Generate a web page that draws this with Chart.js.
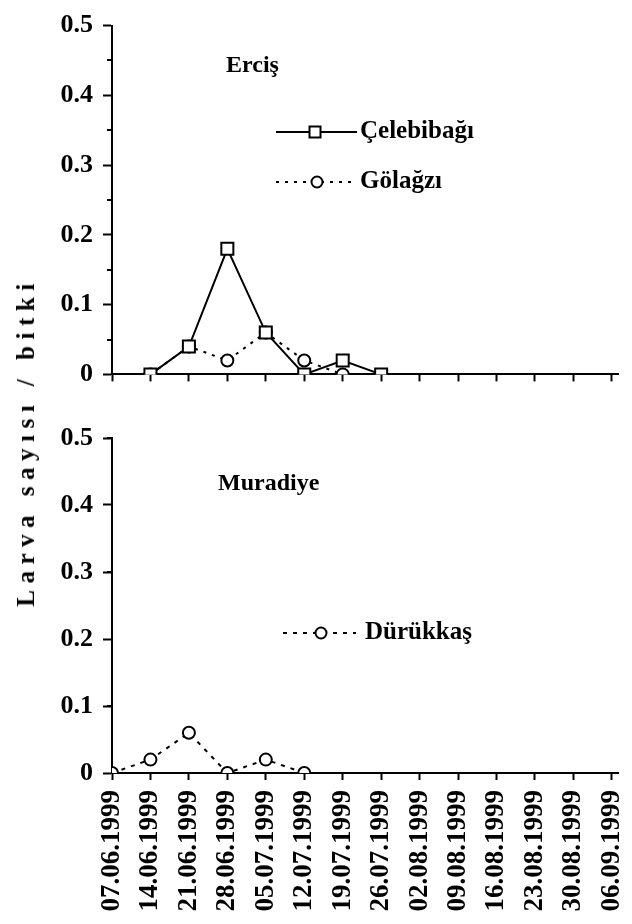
<!DOCTYPE html>
<html>
<head>
<meta charset="utf-8">
<script src="https://cdn.jsdelivr.net/npm/chart.js"></script>
<style>
    html, body { margin: 0; padding: 0; background: #fff; }
    #wrap { position: relative; width: 632px; height: 924px; overflow: hidden; }
    canvas { position: absolute; left: 0; }
    #c-top { top: 0; }
    #c-bottom { top: 400px; }
    #y-title {
        position: absolute; left: 26px; top: 442px;
        transform: translate(-50%, -50%) rotate(-90deg);
        white-space: nowrap;
        font: bold 25px 'Liberation Serif', 'Times New Roman', serif;
        letter-spacing: 6.5px;
        color: #000;
    }
</style>
</head>
<body>
<div id="wrap">
    <canvas id="c-top" width="632" height="400"></canvas>
    <canvas id="c-bottom" width="632" height="524"></canvas>
    <div id="y-title">Larva sayısı / bitki</div>
</div>
<script>
// Tarihler (kategori ekseni)
const dates = ['07.06.1999', '14.06.1999', '21.06.1999', '28.06.1999', '05.07.1999', '12.07.1999', '19.07.1999',
    '26.07.1999', '02.08.1999', '09.08.1999', '16.08.1999', '23.08.1999', '30.08.1999', '06.09.1999'];

// Erciş
const celebibagi = [null, 0, 0.04, 0.18, 0.06, 0, 0.02, 0, null, null, null, null, null, null];
const golagzi = [null, 0, 0.04, 0.02, 0.06, 0.02, 0, null, null, null, null, null, null, null];

// Muradiye
const durukkas = [0, 0.02, 0.06, 0, 0.02, 0, null, null, null, null, null, null, null, null];

const yMin = 0;
const yMax = 0.5;
const yStep = 0.05; // ara çentikler, etiket her 0.1'de

const FONT = "'Liberation Serif', 'Times New Roman', serif";
Chart.defaults.font.family = FONT;
Chart.defaults.font.weight = 'bold';
Chart.defaults.color = '#000';

function toPoints(values) {
    return values.map((v, i) => ({ x: i, y: v }));
}

// Metinler ve gösterge (grafik alanı içinde)
const notesPlugin = {
    id: 'notes',
    afterDraw(chart, args, opts) {
        const ctx = chart.ctx;
        ctx.save();
        ctx.fillStyle = '#000';
        ctx.textBaseline = 'middle';
        (opts.texts || []).forEach(t => {
            ctx.font = `bold ${t.size}px ${FONT}`;
            ctx.fillText(t.text, t.x, t.y);
        });
        (opts.legend || []).forEach(l => {
            ctx.strokeStyle = '#000';
            ctx.lineWidth = 2;
            ctx.setLineDash(l.dash || []);
            ctx.beginPath();
            ctx.moveTo(l.x1, l.y);
            ctx.lineTo(l.x2, l.y);
            ctx.stroke();
            ctx.setLineDash([]);
            ctx.fillStyle = '#fff';
            ctx.beginPath();
            if (l.marker === 'rect') {
                ctx.rect(l.mx - 5.5, l.y - 5.5, 11, 11);
            } else {
                ctx.arc(l.mx, l.y, 5.5, 0, Math.PI * 2);
            }
            ctx.fill();
            ctx.stroke();
            ctx.fillStyle = '#000';
            ctx.font = `bold ${l.size}px ${FONT}`;
            ctx.fillText(l.text, l.tx, l.y);
        });
        ctx.restore();
    }
};

// Ara çentikler (0.05 aralıklı) y ekseninin solunda kısa çizgi
const minorTicksPlugin = {
    id: 'minorTicks',
    afterDraw(chart) {
        const y = chart.scales.y;
        const ctx = chart.ctx;
        ctx.save();
        ctx.strokeStyle = '#000';
        ctx.lineWidth = 2;
        y.ticks.forEach((t, i) => {
            if (i % 2 === 0) return;
            const py = Math.round(y.getPixelForValue(t.value));
            ctx.beginPath();
            ctx.moveTo(chart.chartArea.left - 5, py);
            ctx.lineTo(chart.chartArea.left, py);
            ctx.stroke();
        });
        ctx.restore();
    }
};

function makePanel(canvasId, datasets, cfg) {
    return new Chart(document.getElementById(canvasId), {
        type: 'line',
        data: { datasets },
        plugins: [notesPlugin, minorTicksPlugin],
        options: {
            responsive: false,
            animation: false,
            events: [],
            layout: { padding: { top: cfg.padTop, right: 14, left: 0, bottom: 0 } },
            plugins: {
                legend: { display: false },
                tooltip: { enabled: false },
                notes: { texts: cfg.texts, legend: cfg.legend }
            },
            scales: {
                x: {
                    type: 'linear',
                    min: 0,
                    max: dates.length - 1 + 0.16,
                    afterBuildTicks: s => { s.ticks = s.ticks.filter(t => Number.isInteger(t.value)); },
                    afterFit: s => {
                        s.height = cfg.xHeight;
                        s.paddingLeft = 0;
                        s.paddingRight = 0;
                    },
                    grid: { drawOnChartArea: false, tickLength: 7, tickWidth: 2, tickColor: '#000' },
                    border: { color: '#000', width: 2 },
                    ticks: {
                        stepSize: 1,
                        includeBounds: false,
                        autoSkip: false,
                        minRotation: 90,
                        maxRotation: 90,
                        padding: 10,
                        font: { size: 27, weight: 'bold' },
                        callback: v => cfg.showX ? (dates[v] || '') : ''
                    }
                },
                y: {
                    min: yMin,
                    max: yMax,
                    afterFit: s => { s.width = 112; },
                    grid: {
                        drawOnChartArea: false,
                        tickLength: 9,
                        tickWidth: 2,
                        tickColor: c => (c.index % 2 === 0 ? '#000' : 'rgba(0,0,0,0)')
                    },
                    border: { color: '#000', width: 2 },
                    ticks: {
                        stepSize: yStep,
                        padding: 10,
                        font: { size: 26, weight: 'bold' },
                        callback: (v, i) => (i % 2 === 0 ? (v === 0 ? '0' : v.toFixed(1)) : '')
                    }
                }
            }
        }
    });
}

const solid = {
    borderColor: '#000', borderWidth: 2, backgroundColor: '#fff',
    pointBorderColor: '#000', pointBackgroundColor: '#fff', pointBorderWidth: 2,
    tension: 0, spanGaps: false
};

makePanel('c-top', [
    Object.assign({}, solid, {
        label: 'Çelebibağı', data: toPoints(celebibagi),
        pointStyle: 'rect', pointRadius: 8.5
    }),
    Object.assign({}, solid, {
        label: 'Gölağzı', data: toPoints(golagzi),
        borderDash: [3, 6], pointStyle: 'circle', pointRadius: 6
    })
], {
    padTop: 14,
    xHeight: 22,
    showX: false,
    texts: [{ text: 'Erciş', x: 226, y: 66, size: 24 }],
    legend: [
        { text: 'Çelebibağı', x1: 276, x2: 357, mx: 315, y: 132, tx: 360, marker: 'rect', size: 25 },
        { text: 'Gölağzı', x1: 276, x2: 357, mx: 317, y: 182, tx: 360, marker: 'circle', dash: [3, 6], size: 25 }
    ]
});

makePanel('c-bottom', [
    Object.assign({}, solid, {
        label: 'Dürükkaş', data: toPoints(durukkas),
        borderDash: [4, 6], pointStyle: 'circle', pointRadius: 6
    })
], {
    padTop: 38,
    xHeight: 151,
    showX: true,
    texts: [{ text: 'Muradiye', x: 218, y: 84, size: 24 }],
    legend: [
        { text: 'Dürükkaş', x1: 283, x2: 356, mx: 321, y: 233, tx: 365, marker: 'circle', dash: [4, 6], size: 25 }
    ]
});
</script>
</body>
</html>
